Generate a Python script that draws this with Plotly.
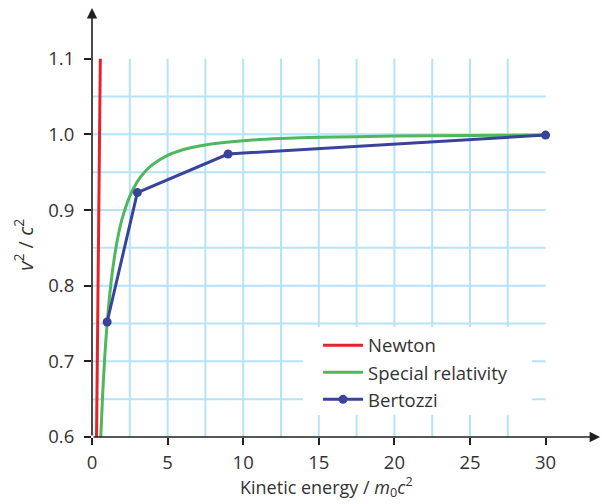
import numpy as np
import plotly.graph_objects as go

# Data
newton_ke = [0.3, 0.55]
newton_v2 = [0.6, 1.1]

sr_ke = [0.58, 0.7, 0.8, 0.9, 1.0, 1.25, 1.5, 1.75, 2.0, 2.5, 3.0, 3.5, 4.0, 5.0,
         6.0, 7.0, 8.0, 10.0, 12.5, 15.0, 20.0, 25.0, 30.0]
sr_v2 = [0.6, 0.654, 0.691, 0.723, 0.75, 0.8025, 0.84, 0.8678, 0.8889, 0.9184, 0.9375,
         0.9506, 0.96, 0.9722, 0.9796, 0.9844, 0.9877, 0.9917, 0.9945, 0.9961, 0.9977,
         0.9985, 0.999]

bert_ke = [1.0, 3.0, 9.0, 30.0]
bert_v2 = [0.752, 0.923, 0.974, 0.999]

x_ticks = [0, 5, 10, 15, 20, 25, 30]
y_ticks = [0.6, 0.7, 0.8, 0.9, 1.0, 1.1]

RED = "#e3242b"
GREEN = "#4fb85e"
BLUE = "#39439b"
GRID = "#b5e3f7"
AXIS = "#231f20"
TEXT = "#333333"
FONT = "Open Sans"

fig = go.Figure()
fig.add_trace(go.Scatter(x=newton_ke, y=newton_v2, mode="lines", name="Newton",
                         line=dict(color=RED, width=3)))
fig.add_trace(go.Scatter(x=sr_ke, y=sr_v2, mode="lines", name="Special relativity",
                         line=dict(color=GREEN, width=3, shape="spline", smoothing=0.6)))
fig.add_trace(go.Scatter(x=bert_ke, y=bert_v2, mode="lines+markers", name="Bertozzi",
                         line=dict(color=BLUE, width=3),
                         marker=dict(color=BLUE, size=9)))

xmax_grid, ymax_grid = 30, 1.1
shapes = []
for gx in np.arange(2.5, 30, 2.5):
    shapes.append(dict(type="line", xref="x", yref="y", x0=gx, x1=gx, y0=0.6, y1=ymax_grid,
                       line=dict(color=GRID, width=2), layer="below"))
for gy in np.arange(0.65, 1.09, 0.05):
    shapes.append(dict(type="line", xref="x", yref="y", x0=0, x1=xmax_grid, y0=gy, y1=gy,
                       line=dict(color=GRID, width=2), layer="below"))
# white panel behind the legend, hiding the grid there
shapes.append(dict(type="rect", xref="x", yref="y", x0=13.95, x1=29.1, y0=0.629, y1=0.7455,
                   fillcolor="white", line=dict(width=0), layer="below"))

XMAX, YMAX = 33.6, 1.167
annotations = [
    dict(x=XMAX, y=0.6, ax=0, ay=0.6, xref="x", yref="y", axref="x", ayref="y",
         showarrow=True, arrowhead=2, arrowsize=1.3, arrowwidth=1.6, arrowcolor=AXIS, text=""),
    dict(x=0, y=YMAX, ax=0, ay=0.6, xref="x", yref="y", axref="x", ayref="y",
         showarrow=True, arrowhead=2, arrowsize=1.3, arrowwidth=1.6, arrowcolor=AXIS, text=""),
    dict(x=15.5, y=0, xref="x", yref="paper", yshift=-50, xanchor="center", yanchor="middle",
         showarrow=False,
         text="Kinetic energy / <i>m</i><sub>0</sub><i>c</i><sup>2</sup>",
         font=dict(family=FONT, size=18, color=TEXT)),
    dict(x=0, y=0.854, xref="paper", yref="y", xshift=-68, xanchor="center", yanchor="middle",
         showarrow=False, textangle=-90,
         text="<i>v</i><sup>2</sup> / <i>c</i><sup>2</sup>",
         font=dict(family=FONT, size=20, color=TEXT)),
]

fig.update_layout(
    width=602, height=504,
    margin=dict(l=92, r=2, t=8, b=67),
    plot_bgcolor="white", paper_bgcolor="white",
    font=dict(family=FONT, size=16, color=TEXT),
    shapes=shapes, annotations=annotations,
    showlegend=True,
    legend=dict(x=0.445, y=0.257, xanchor="left", yanchor="top", bgcolor="rgba(0,0,0,0)",
                font=dict(family=FONT, size=18.5, color=TEXT),
                tracegroupgap=0, itemwidth=40),
    xaxis=dict(range=[0, XMAX], tickvals=x_ticks, ticks="outside", ticklen=7,
               tickcolor=AXIS, tickwidth=1.5, showgrid=False, zeroline=False,
               showline=False, ticklabelstandoff=2,
               tickfont=dict(family=FONT, size=18.5, color=TEXT)),
    yaxis=dict(range=[0.6, YMAX], tickvals=y_ticks, tickformat=".1f", ticks="outside",
               ticklen=7, tickcolor=AXIS, tickwidth=1.5, showgrid=False,
               zeroline=False, showline=False, ticklabelstandoff=6,
               tickfont=dict(family=FONT, size=18.5, color=TEXT)),
)

fig.write_html("out.html", config={"displayModeBar": False},
               post_script="document.body.style.margin='0';")
